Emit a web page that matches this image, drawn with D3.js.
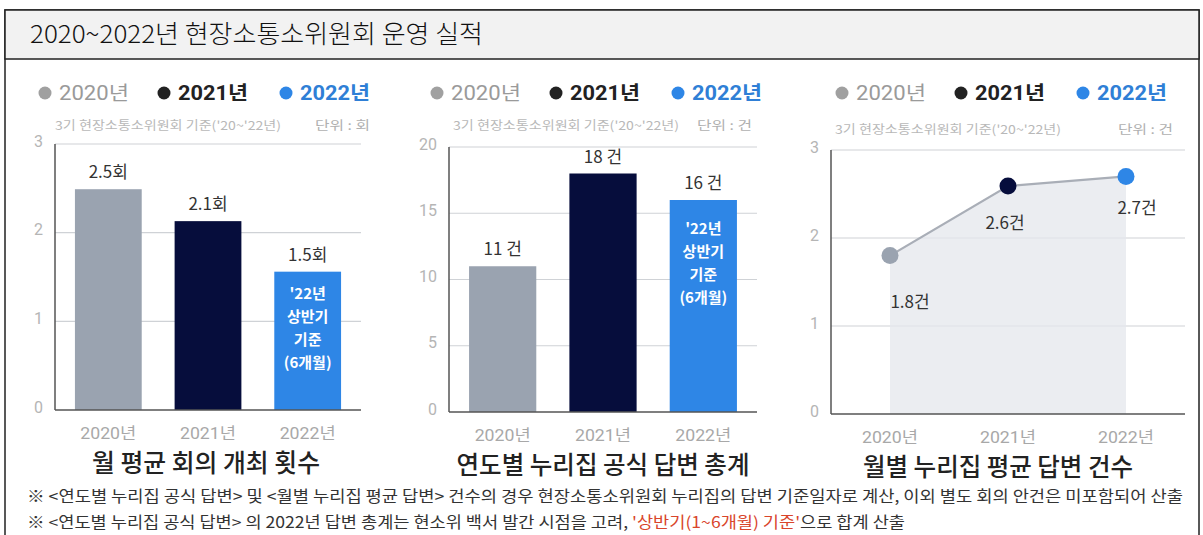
<!DOCTYPE html>
<html>
<head>
<meta charset="utf-8">
<script src="https://cdn.jsdelivr.net/npm/d3@7"></script>
<style>
  body { margin: 0; background: #fff; }
  text { font-family: Roboto, "Noto Sans CJK KR", "Noto Sans", sans-serif; }
  .kr { font-family: "Noto Sans CJK KR", "Noto Sans", sans-serif; }
</style>
</head>
<body>
<svg id="chart"></svg>
<script>
// ---- data ----
const years = ["2020년", "2021년", "2022년"];
const yearColors = ["#9aa3b0", "#060d3c", "#2e86e6"];
const legendDotColors = ["#a0a0a0", "#222222", "#2e86e6"];
const legendTextColors = ["#9a9a9a", "#222222", "#2f7fd6"];

const meetingValues = [2.49, 2.13, 1.56];
const meetingLabels = ["2.5회", "2.1회", "1.5회"];
const meetingTicks = [0, 1, 2, 3];

const answerValues = [11, 18, 16];
const answerLabels = ["11 건", "18 건", "16 건"];
const answerTicks = [0, 5, 10, 15, 20];

const monthlyValues = [1.8, 2.59, 2.7];
const monthlyLabels = ["1.8건", "2.6건", "2.7건"];
const monthlyTicks = [0, 1, 2, 3];

const halfYearNote = ["'22년", "상반기", "기준", "(6개월)"];
const subtitle = "3기 현장소통소위원회 기준('20~'22년)";

const W = 1203, H = 535;
const svg = d3.select("#chart").attr("width", W).attr("height", H);

// stretch a text to a given width (the source artwork is set wide)
function fit(sel, w) {
    return sel.attr("textLength", w).attr("lengthAdjust", "spacingAndGlyphs");
}

// frame + header
svg.append("rect").attr("x", 5).attr("y", 10).attr("width", 1194).attr("height", 540)
    .attr("fill", "none").attr("stroke", "#222").attr("stroke-width", 1.5);
svg.append("rect").attr("x", 5).attr("y", 10).attr("width", 1194).attr("height", 49)
    .attr("fill", "#f2f2f2").attr("stroke", "#222").attr("stroke-width", 1.5);
fit(svg.append("text").attr("class", "kr").attr("x", 30).attr("y", 43)
    .attr("font-size", 25).attr("font-weight", 300).attr("fill", "#111")
    .text("2020~2022년 현장소통소위원회 운영 실적"), 453);

function legend(x, y) {
    var offs = [0, 119, 241];
    years.forEach(function(yr, i) {
        svg.append("circle").attr("cx", x + offs[i]).attr("cy", y).attr("r", 6.5)
            .attr("fill", legendDotColors[i]);
        fit(svg.append("text").attr("x", x + offs[i] + 14).attr("y", y + 7)
            .attr("font-size", 19.5).attr("font-weight", i == 0 ? 400 : 700)
            .attr("fill", legendTextColors[i]).text(yr), 70);
    });
}

function frame(cfg, ticks) {
    var y = d3.scaleLinear().domain([0, d3.max(ticks)]).range([cfg.y0, cfg.y1]);
    var g = svg.append("g");
    g.selectAll(".grid").data(ticks.filter(function(t) { return t > 0; })).enter()
        .append("line")
        .attr("x1", cfg.x0).attr("x2", cfg.x1)
        .attr("y1", function(d) { return y(d); }).attr("y2", function(d) { return y(d); })
        .attr("stroke", "#cfd2d6").attr("stroke-width", 1.2);
    g.selectAll(".tick").data(ticks).enter().append("text")
        .attr("x", cfg.x0 - 12).attr("y", function(d) { return y(d) - 3; })
        .attr("dy", "0.35em")
        .attr("text-anchor", "end").attr("font-size", 16).attr("fill", "#b5b5b5")
        .text(function(d) { return d; });
    // subtitle + unit
    fit(svg.append("text").attr("class", "kr").attr("x", cfg.subX).attr("y", cfg.subY)
        .attr("font-size", 12).attr("fill", "#b8b8b8").text(subtitle), 226);
    fit(svg.append("text").attr("class", "kr").attr("x", cfg.unitX).attr("y", cfg.subY)
        .attr("text-anchor", "end").attr("font-size", 12.5).attr("fill", "#b0b0b0").text(cfg.unit), 55);
    legend(cfg.legX, 93);
    return y;
}

function axisLines(cfg) {
    svg.append("line").attr("x1", cfg.x0).attr("x2", cfg.x0).attr("y1", cfg.y1).attr("y2", cfg.y0)
        .attr("stroke", "#555").attr("stroke-width", 1.5);
    svg.append("line").attr("x1", cfg.x0).attr("x2", cfg.x1).attr("y1", cfg.y0).attr("y2", cfg.y0)
        .attr("stroke", "#555").attr("stroke-width", 1.5);
}

function xLabels(cfg, xpos) {
    years.forEach(function(yr, i) {
        fit(svg.append("text").attr("x", xpos(i)).attr("y", cfg.y0 + 29)
            .attr("text-anchor", "middle").attr("font-size", 16).attr("fill", "#a8a8a8").text(yr), 56);
    });
    fit(svg.append("text").attr("class", "kr").attr("x", cfg.titleX).attr("y", cfg.y0 + 62)
        .attr("text-anchor", "middle").attr("font-size", 25).attr("font-weight", 500)
        .attr("fill", "#222").text(cfg.title), cfg.titleW);
}

function barPanel(cfg, values, labels, ticks) {
    var y = frame(cfg, ticks);
    var x = d3.scaleBand().domain(d3.range(values.length)).range([cfg.x0, cfg.x1])
        .paddingInner(0.33).paddingOuter(0.2);
    svg.append("g").selectAll("rect").data(values).enter().append("rect")
        .attr("x", function(d, i) { return x(i); })
        .attr("y", function(d) { return y(d); })
        .attr("width", x.bandwidth())
        .attr("height", function(d) { return cfg.y0 - y(d); })
        .attr("fill", function(d, i) { return yearColors[i]; });
    svg.append("g").selectAll("text").data(values).enter().append("text")
        .attr("class", "kr")
        .attr("x", function(d, i) { return x(i) + x.bandwidth() / 2; })
        .attr("y", function(d) { return y(d) - 11; })
        .attr("text-anchor", "middle").attr("font-size", 17).attr("fill", "#333")
        .text(function(d, i) { return labels[i]; });
    // note inside the 2022 bar
    var cx = x(2) + x.bandwidth() / 2;
    halfYearNote.forEach(function(t, k) {
        svg.append("text").attr("class", "kr").attr("x", cx).attr("y", y(values[2]) + cfg.noteTop + k * 23)
            .attr("text-anchor", "middle").attr("font-size", 15).attr("font-weight", 700)
            .attr("fill", "#fff").text(t);
    });
    axisLines(cfg);
    xLabels(cfg, function(i) { return x(i) + x.bandwidth() / 2; });
}

function linePanel(cfg, values, labels, ticks) {
    var y = frame(cfg, ticks);
    var x = d3.scalePoint().domain(d3.range(values.length)).range([cfg.x0, cfg.x1]).padding(0.5);
    var area = d3.area().x(function(d, i) { return x(i); }).y0(cfg.y0).y1(function(d) { return y(d); });
    svg.append("path").datum(values).attr("d", area).attr("fill", "#e4e7ec").attr("opacity", 0.75);
    var line = d3.line().x(function(d, i) { return x(i); }).y(function(d) { return y(d); });
    svg.append("path").datum(values).attr("d", line).attr("fill", "none")
        .attr("stroke", "#a9aeb7").attr("stroke-width", 2.2);
    axisLines(cfg);
    svg.append("g").selectAll("circle").data(values).enter().append("circle")
        .attr("cx", function(d, i) { return x(i); })
        .attr("cy", function(d) { return y(d); })
        .attr("r", 8.5)
        .attr("fill", function(d, i) { return yearColors[i]; });
    var shift = [[20, 52], [-3, 43], [11, 38]];
    svg.append("g").selectAll("text").data(values).enter().append("text")
        .attr("class", "kr")
        .attr("x", function(d, i) { return x(i) + shift[i][0]; })
        .attr("y", function(d, i) { return y(d) + shift[i][1]; })
        .attr("text-anchor", "middle").attr("font-size", 17).attr("fill", "#333")
        .text(function(d, i) { return labels[i]; });
    xLabels(cfg, x);
}

barPanel({x0: 55, x1: 361, y0: 410, y1: 144, subX: 55, subY: 130, unitX: 370, unit: "단위 : 회",
          legX: 45, title: "월 평균 회의 개최 횟수", titleX: 206, titleW: 228, noteTop: 27},
         meetingValues, meetingLabels, meetingTicks);
barPanel({x0: 449, x1: 757, y0: 412, y1: 147, subX: 453, subY: 130, unitX: 752, unit: "단위 : 건",
          legX: 437, title: "연도별 누리집 공식 답변 총계", titleX: 603, titleW: 293, noteTop: 34},
         answerValues, answerLabels, answerTicks);
linePanel({x0: 831, x1: 1185, y0: 414, y1: 150, subX: 835, subY: 134, unitX: 1173, unit: "단위 : 건",
           legX: 842, title: "월별 누리집 평균 답변 건수", titleX: 998, titleW: 270},
          monthlyValues, monthlyLabels, monthlyTicks);

// footnotes
fit(svg.append("text").attr("class", "kr").attr("x", 27).attr("y", 502)
    .attr("font-size", 16).attr("fill", "#333")
    .text("※ <연도별 누리집 공식 답변> 및 <월별 누리집 평균 답변> 건수의 경우 현장소통소위원회 누리집의 답변 기준일자로 계산,  이외 별도 회의 안건은 미포함되어 산출"), 1156);
var note2 = fit(svg.append("text").attr("class", "kr").attr("x", 27).attr("y", 528)
    .attr("font-size", 15.5).attr("fill", "#333"), 878);
note2.append("tspan").text("※ <연도별 누리집 공식 답변> 의 2022년 답변 총계는 현소위 백서 발간 시점을 고려, ");
note2.append("tspan").attr("fill", "#d9452b").text("'상반기(1~6개월) 기준'");
note2.append("tspan").text("으로 합계 산출");
</script>
</body>
</html>
